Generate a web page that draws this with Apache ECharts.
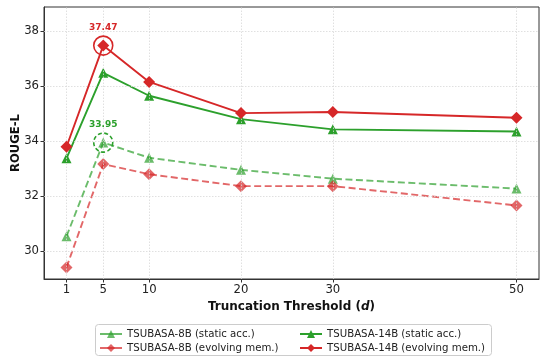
<!DOCTYPE html>
<html>
<head>
<meta charset="utf-8">
<script src="https://cdn.jsdelivr.net/npm/echarts@6/dist/echarts.min.js"></script>
<style>
  html, body { margin: 0; padding: 0; background: #fff; }
  #chart { width: 540px; height: 358px; }
</style>
</head>
<body>
<div id="chart"></div>
<script>
// truncation thresholds (x)
const thresholds = [1, 5, 10, 20, 30, 50]
const yTicks = [30, 32, 34, 36, 38]

// ROUGE-L values
const static8B = [30.55, 33.95, 33.40, 32.96, 32.64, 32.28]
const evolving8B = [29.42, 33.17, 32.80, 32.37, 32.37, 31.67]
const static14B = [33.38, 36.48, 35.65, 34.80, 34.43, 34.35]
const evolving14B = [33.80, 37.47, 36.15, 35.02, 35.06, 34.85]

const RED = '#d62728'
const GREEN = '#2ca02c'
const FONT = 'DejaVu Sans'

const pairs = vals => thresholds.map((x, i) => [x, vals[i]])

function ring(x, y, color, dashed) {
  return {
    coord: [x, y],
    symbol: 'circle',
    symbolSize: 19,
    itemStyle: {
      color: 'rgba(0,0,0,0)',
      borderColor: color,
      borderWidth: 1.6,
      borderType: dashed ? [4, 2.5] : 'solid'
    },
    label: {
      show: true,
      position: 'top',
      distance: 3,
      formatter: String(y),
      color: color,
      fontWeight: 'bold',
      fontSize: 9,
      fontFamily: FONT
    }
  }
}

function legendCol(left, names) {
  return {
    orient: 'vertical',
    left: left,
    top: 329,
    itemWidth: 22,
    itemHeight: 10,
    itemGap: 4,
    padding: 0,
    lineStyle: { type: 'solid' },
    textStyle: { fontSize: 10.2, color: '#222', fontFamily: FONT },
    data: names
  }
}

const chart = echarts.init(document.getElementById('chart'))
chart.setOption({
  animation: false,
  textStyle: { fontFamily: FONT },
  grid: {
    left: 44, right: 1, top: 7, bottom: 79,
    outerBoundsMode: 'none',
    containLabel: false,
    show: true, borderColor: '#333', borderWidth: 1
  },
  graphic: [{
    type: 'rect',
    left: 95, top: 324,
    shape: { width: 396, height: 31, r: 3 },
    style: { fill: '#fff', stroke: '#ccc', lineWidth: 1 },
    z: -1
  }],
  xAxis: {
    type: 'value',
    min: -1.45,
    max: 52.45,
    name: 'Truncation Threshold ({i|d})',
    nameLocation: 'middle',
    nameGap: 19,
    nameTextStyle: {
      fontWeight: 'bold', fontSize: 12, color: '#111', fontFamily: FONT,
      rich: { i: { fontStyle: 'italic', fontWeight: 'bold', fontSize: 12, color: '#111', fontFamily: FONT } }
    },
    axisLine: { onZero: false, lineStyle: { color: '#333' } },
    axisTick: { customValues: thresholds, length: 3.5, lineStyle: { color: '#333' } },
    axisLabel: { customValues: thresholds, color: '#222', fontSize: 11.7, margin: 5, fontFamily: FONT },
    splitLine: { show: false }
  },
  yAxis: {
    type: 'value',
    min: 29,
    max: 38.87,
    name: 'ROUGE-L',
    nameLocation: 'middle',
    nameGap: 22,
    nameMoveOverlap: false,
    nameTextStyle: { fontWeight: 'bold', fontSize: 11.6, color: '#111', fontFamily: FONT },
    axisLine: { show: true, onZero: false, lineStyle: { color: '#333' } },
    axisTick: { show: true, customValues: yTicks, length: 3.5, lineStyle: { color: '#333' } },
    axisLabel: { customValues: yTicks, color: '#222', fontSize: 11.7, margin: 5, fontFamily: FONT },
    splitLine: { show: false }
  },
  legend: [
    legendCol(99, ['TSUBASA-8B (static acc.)', 'TSUBASA-8B (evolving mem.)']),
    legendCol(299, ['TSUBASA-14B (static acc.)', 'TSUBASA-14B (evolving mem.)'])
  ],
  series: [
    {
      name: 'grid',
      type: 'line',
      data: [],
      silent: true,
      z: 0,
      markLine: {
        silent: true,
        symbol: 'none',
        animation: false,
        label: { show: false },
        lineStyle: { color: '#d8d8d8', type: [1.5, 1.5], width: 0.8 },
        data: thresholds.map(v => ({ xAxis: v })).concat(yTicks.map(v => ({ yAxis: v })))
      }
    },
    {
      name: 'TSUBASA-8B (static acc.)',
      type: 'line',
      data: pairs(static8B),
      symbol: 'triangle',
      symbolSize: 10,
      itemStyle: { color: GREEN, opacity: 0.7 },
      lineStyle: { color: GREEN, width: 1.9, type: [7, 3.5], opacity: 0.7 },
      markPoint: { silent: true, data: [ring(5, 33.95, GREEN, true)] },
      z: 3
    },
    {
      name: 'TSUBASA-8B (evolving mem.)',
      type: 'line',
      data: pairs(evolving8B),
      symbol: 'diamond',
      symbolSize: 12,
      itemStyle: { color: RED, opacity: 0.7 },
      lineStyle: { color: RED, width: 1.9, type: [7, 3.5], opacity: 0.7 },
      z: 3
    },
    {
      name: 'TSUBASA-14B (static acc.)',
      type: 'line',
      data: pairs(static14B),
      symbol: 'triangle',
      symbolSize: 10,
      itemStyle: { color: GREEN },
      lineStyle: { color: GREEN, width: 1.9 },
      z: 4
    },
    {
      name: 'TSUBASA-14B (evolving mem.)',
      type: 'line',
      data: pairs(evolving14B),
      symbol: 'diamond',
      symbolSize: 12,
      itemStyle: { color: RED },
      lineStyle: { color: RED, width: 1.9 },
      markPoint: { silent: true, data: [ring(5, 37.47, RED, false)] },
      z: 5
    }
  ]
})
</script>
</body>
</html>
